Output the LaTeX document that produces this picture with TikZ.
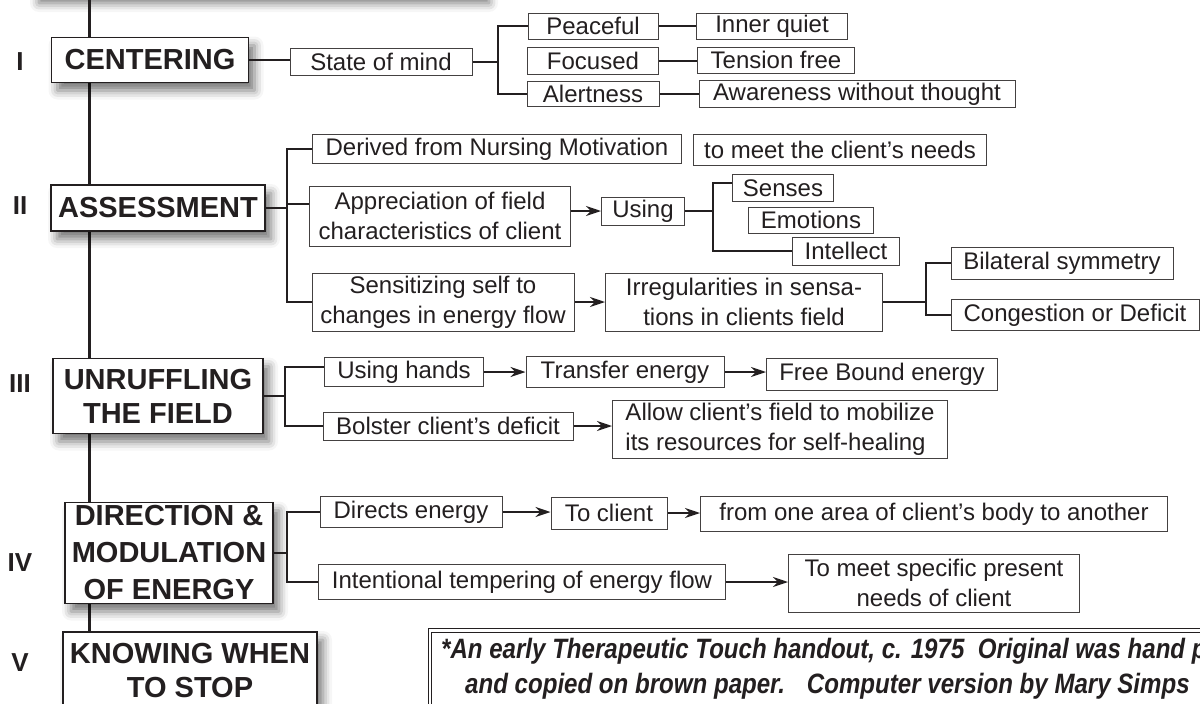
\documentclass[tikz,border=0pt]{standalone}
\usepackage{fontspec}
\setmainfont{Liberation Sans}
\newfontfamily\notefont{Liberation Sans}[FakeStretch=0.86]
\usepackage{tikz}
\usetikzlibrary{arrows.meta}
\usetikzlibrary{shadows.blur}
\definecolor{ink}{HTML}{231F20}
\tikzstyle{stage}=[draw=ink,line width=1.4pt,fill=white,text=ink,align=center,inner sep=0pt,
  font=\fontsize{29}{34}\selectfont\bfseries,
  blur shadow={shadow xshift=6pt,shadow yshift=-8pt,shadow blur radius=9pt,shadow opacity=55}]
\tikzstyle{item}=[draw=ink!85,line width=1pt,fill=white,text=ink,align=center,inner sep=0pt,
  minimum height=28pt,font=\fontsize{24}{30}\selectfont]
\tikzstyle{numeral}=[text=ink,font=\fontsize{26}{30}\selectfont\bfseries]
\tikzstyle{link}=[draw=ink,line width=2pt]
\tikzstyle{flow}=[draw=ink,line width=1.6pt,-{Stealth[length=15pt,width=10pt]}]

\begin{document}
\begin{tikzpicture}[x=1pt,y=-1pt]
  \useasboundingbox (0,0) rectangle (1200,704);
  \clip (0,0) rectangle (1200,704);

  % main spine
  \coordinate (top) at (89,-5);
  \node[stage,minimum width=450pt,minimum height=60pt] (title) at (258,-35) {};
  \node[stage,minimum width=254pt,minimum height=78pt] (know) at (190,671) {KNOWING WHEN\\TO STOP};
  \draw[ink,line width=3pt] (top) -- (top |- know.north);

  % stages
  \node[stage,minimum width=197pt,minimum height=45pt] (cent) at (150,60) {CENTERING};
  \node[stage,minimum width=214pt,minimum height=46pt] (asm) at (158,208) {ASSESSMENT};
  \node[stage,minimum width=210pt,minimum height=75pt] (unr) at (158,396) {UNRUFFLING\\THE FIELD};
  \node[stage,minimum width=208pt,minimum height=101pt,font=\fontsize{29}{37}\selectfont\bfseries] (dir) at (169,553) {DIRECTION \&\\MODULATION\\OF ENERGY};

  \foreach \n/\y in {I/62,II/206,III/384,IV/563,V/663}{
    \node[numeral] (num\n) at (20,\y) {\n};
  }

  % I
  \node[item,minimum width=182pt,minimum height=27pt] (state) at (381,62) {State of mind};
  \node[item,minimum width=130pt,minimum height=26pt] (peace) at (593,26) {Peaceful};
  \node[item,minimum width=131pt,minimum height=27pt] (focus) at (593,61) {Focused};
  \node[item,minimum width=132pt,minimum height=25pt] (alert) at (593,94) {Alertness};
  \node[item,minimum width=151pt,minimum height=26pt] (quiet) at (772,26) {Inner quiet};
  \node[item,minimum width=157pt,minimum height=26pt] (tension) at (776,60) {Tension free};
  \node[item,minimum width=316pt,minimum height=27pt] (aware) at (857,94) {Awareness without thought};
  \coordinate (b1) at (498,0);
  \draw[link] (cent.east) -- (cent.east -| state.west);
  \draw[link] (state.east) -- (state.east -| b1);
  \draw[link] (peace.west) -- (peace.west -| b1) -- (alert.west -| b1) -- (alert.west);
  \foreach \a/\b in {peace/quiet,focus/tension,alert/aware}{
    \draw[link] (\a.east) -- (\a.east -| \b.west);
  }

  % II
  \node[item,minimum width=369pt,minimum height=29pt] (der) at (497,149) {Derived from Nursing Motivation};
  \node[item,minimum width=293pt,minimum height=31pt] (meet) at (840,150) {to meet the client’s needs};
  \node[item,minimum width=261pt,minimum height=60pt] (appr) at (440,216) {Appreciation of field\\characteristics of client};
  \node[item,minimum width=83pt] (using) at (643,211) {Using};
  \node[item,minimum width=101pt,minimum height=27pt] (senses) at (783,188) {Senses};
  \node[item,minimum width=125pt,minimum height=26pt] (emot) at (811,220) {Emotions};
  \node[item,minimum width=107pt] (intel) at (846,251) {Intellect};
  \node[item,minimum width=262pt,minimum height=58pt] (sensz) at (443,302) {Sensitizing self to\\changes in energy flow};
  \node[item,minimum width=277pt,minimum height=58pt] (irreg) at (744,302) {Irregularities in sensa-\\tions in clients field};
  \node[item,minimum width=222pt,minimum height=32pt] (bilat) at (1062,263) {Bilateral symmetry};
  \node[item,minimum width=248pt,minimum height=31pt] (cong) at (1075,315) {Congestion or Deficit};
  \coordinate (b2) at (287,0);
  \coordinate (b2u) at (713,0);
  \coordinate (b2s) at (926,0);
  \draw[link] (asm.east) -- (asm.east -| b2);
  \draw[link] (der.west) -- (der.west -| b2) -- (sensz.west -| b2) -- (sensz.west);
  \draw[link] ([yshift=12pt]appr.west) -- ([yshift=12pt]appr.west -| b2);
  \draw[flow] (appr.east |- using.west) -- (using.west);
  \draw[link] (using.east) -- (using.east -| b2u);
  \draw[link] ([yshift=5pt]senses.west) -- ([yshift=5pt]senses.west -| b2u) -- (intel.west -| b2u) -- (intel.west);
  \draw[flow] (sensz.east) -- (irreg.west);
  \draw[link] (irreg.east) -- (irreg.east -| b2s);
  \draw[link] (bilat.west) -- (bilat.west -| b2s) -- (cong.west -| b2s) -- (cong.west);

  % III
  \node[item,minimum width=159pt,minimum height=29pt] (hands) at (404,372) {Using hands};
  \node[item,minimum width=198pt,minimum height=31pt] (transfer) at (625,372) {Transfer energy};
  \node[item,minimum width=231pt,minimum height=32pt] (free) at (882,374) {Free Bound energy};
  \node[item,minimum width=250pt] (bolster) at (448,426) {Bolster client’s deficit};
  \node[item,minimum width=335pt,minimum height=58pt,align=left] (allow) at (780,429) {Allow client’s field to mobilize\\its resources for self-healing};
  \coordinate (b3) at (285,0);
  \draw[link] (unr.east) -- (unr.east -| b3);
  \draw[link] ([yshift=5pt]hands.west) -- ([yshift=5pt]hands.west -| b3) -- (bolster.west -| b3) -- (bolster.west);
  \foreach \a/\b in {hands/transfer,transfer/free,bolster/allow}{
    \draw[flow] (\a.east) -- (\a.east -| \b.west);
  }

  % IV
  \node[item,minimum width=182pt,minimum height=31pt] (directs) at (411,512) {Directs energy};
  \node[item,minimum width=116pt,minimum height=32pt] (toclient) at (609,513) {To client};
  \node[item,minimum width=467pt,minimum height=35pt] (onearea) at (934,514) {from one area of client’s body to another};
  \node[item,minimum width=407pt,minimum height=35pt] (intent) at (522,582) {Intentional tempering of energy flow};
  \node[item,minimum width=291pt,minimum height=58pt] (tomeet) at (934,583) {To meet specific present\\needs of client};
  \coordinate (b4) at (287,0);
  \draw[link] (dir.east) -- (dir.east -| b4);
  \draw[link] (directs.west) -- (directs.west -| b4) -- (intent.west -| b4) -- (intent.west);
  \foreach \a/\b in {directs/toclient,toclient/onearea,intent/tomeet}{
    \draw[flow] (\a.east) -- (\a.east -| \b.west);
  }

  % note
  \node[draw=ink,line width=1pt,double=white,double distance=2.5pt,fill=white,
    minimum width=800pt,minimum height=95pt] (notebox) at (830,678) {};
  \node[anchor=west,align=left,text=ink,inner sep=0pt,
    font=\notefont\bfseries\itshape\fontsize{28}{35}\selectfont] (note) at (441,669)
    {*An early Therapeutic Touch handout, c. 1975\ \ Original was hand p\\
     \hspace*{24pt}and copied on brown paper.\hspace*{22pt}Computer version by Mary Simps};
\end{tikzpicture}
\end{document}
